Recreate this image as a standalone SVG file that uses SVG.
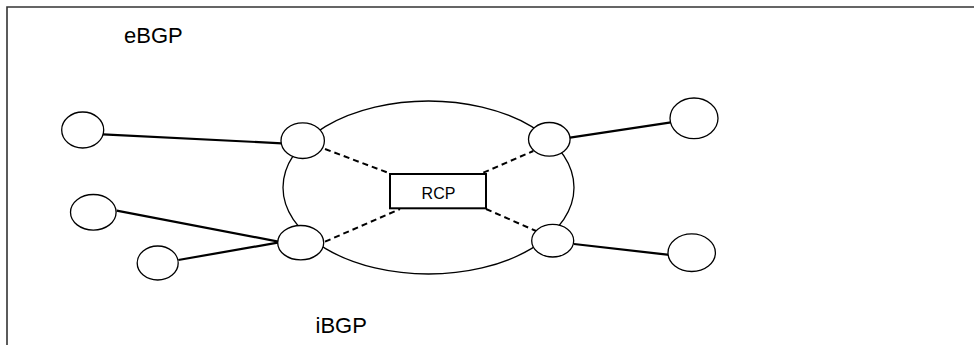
<svg xmlns="http://www.w3.org/2000/svg" width="974" height="345" viewBox="0 0 974 345">
<style>
.node{fill:#fff;stroke:#000;stroke-width:1.3}
.solid{stroke:#000;stroke-width:2.2;fill:none}
.dash{stroke:#000;stroke-width:2;stroke-dasharray:6 4;fill:none}
.lbl{font-family:"Liberation Sans",Arial,sans-serif;fill:#000}
</style>
<rect width="974" height="345" fill="#fff"/>
<path d="M7,345 V7 H974" fill="none" stroke="#333" stroke-width="1.6"/>
<g id="as-cloud"><ellipse cx="428.5" cy="187.5" rx="145.5" ry="86.5" fill="none" stroke="#000" stroke-width="1.3"/></g>
<g id="connectors">
<line class="solid" x1="103" y1="134.3" x2="282" y2="143.3"/>
<line class="solid" x1="116.7" y1="210.7" x2="287.3" y2="243.3"/>
<line class="solid" x1="178.3" y1="260" x2="283.3" y2="241.7"/>
<line class="solid" x1="565" y1="138.3" x2="676" y2="121.7"/>
<line class="solid" x1="574" y1="244" x2="676" y2="255.7"/>
<line class="dash" x1="325" y1="149" x2="390" y2="173.5"/>
<line class="dash" x1="325" y1="241.7" x2="400" y2="209"/>
<line class="dash" x1="483.3" y1="172.7" x2="533.3" y2="151"/>
<line class="dash" x1="486" y1="209" x2="540" y2="232.7"/>
</g>
<g id="ext-left-top"><ellipse class="node" cx="82.7" cy="130" rx="21" ry="18"/></g>
<g id="ext-left-mid"><ellipse class="node" cx="93.3" cy="212.3" rx="22.8" ry="17.8"/></g>
<g id="ext-left-bottom"><ellipse class="node" cx="157.7" cy="263" rx="20.5" ry="17"/></g>
<g id="ext-right-top"><ellipse class="node" cx="694" cy="118.3" rx="24" ry="20.3"/></g>
<g id="ext-right-bottom"><ellipse class="node" cx="691.7" cy="252.7" rx="23.7" ry="18.8"/></g>
<g id="router-ul"><ellipse class="node" cx="302.7" cy="140.7" rx="21.7" ry="17.8"/></g>
<g id="router-ll"><ellipse class="node" cx="300.7" cy="242.7" rx="23" ry="17.2"/></g>
<g id="router-ur"><ellipse class="node" cx="549.3" cy="139.3" rx="20.8" ry="16.8" fill="none"/></g>
<g id="router-lr"><ellipse class="node" cx="552.7" cy="240.7" rx="21" ry="16.3"/></g>
<g id="rcp">
<rect x="390" y="174" width="96" height="34.3" fill="#fff" stroke="#000" stroke-width="2"/>
<text class="lbl" x="438.5" y="199.3" font-size="16" text-anchor="middle">RCP</text>
</g>
<g id="labels">
<text class="lbl" x="124" y="43" font-size="22">eBGP</text>
<text class="lbl" x="315.5" y="333" font-size="22">iBGP</text>
</g>
</svg>
